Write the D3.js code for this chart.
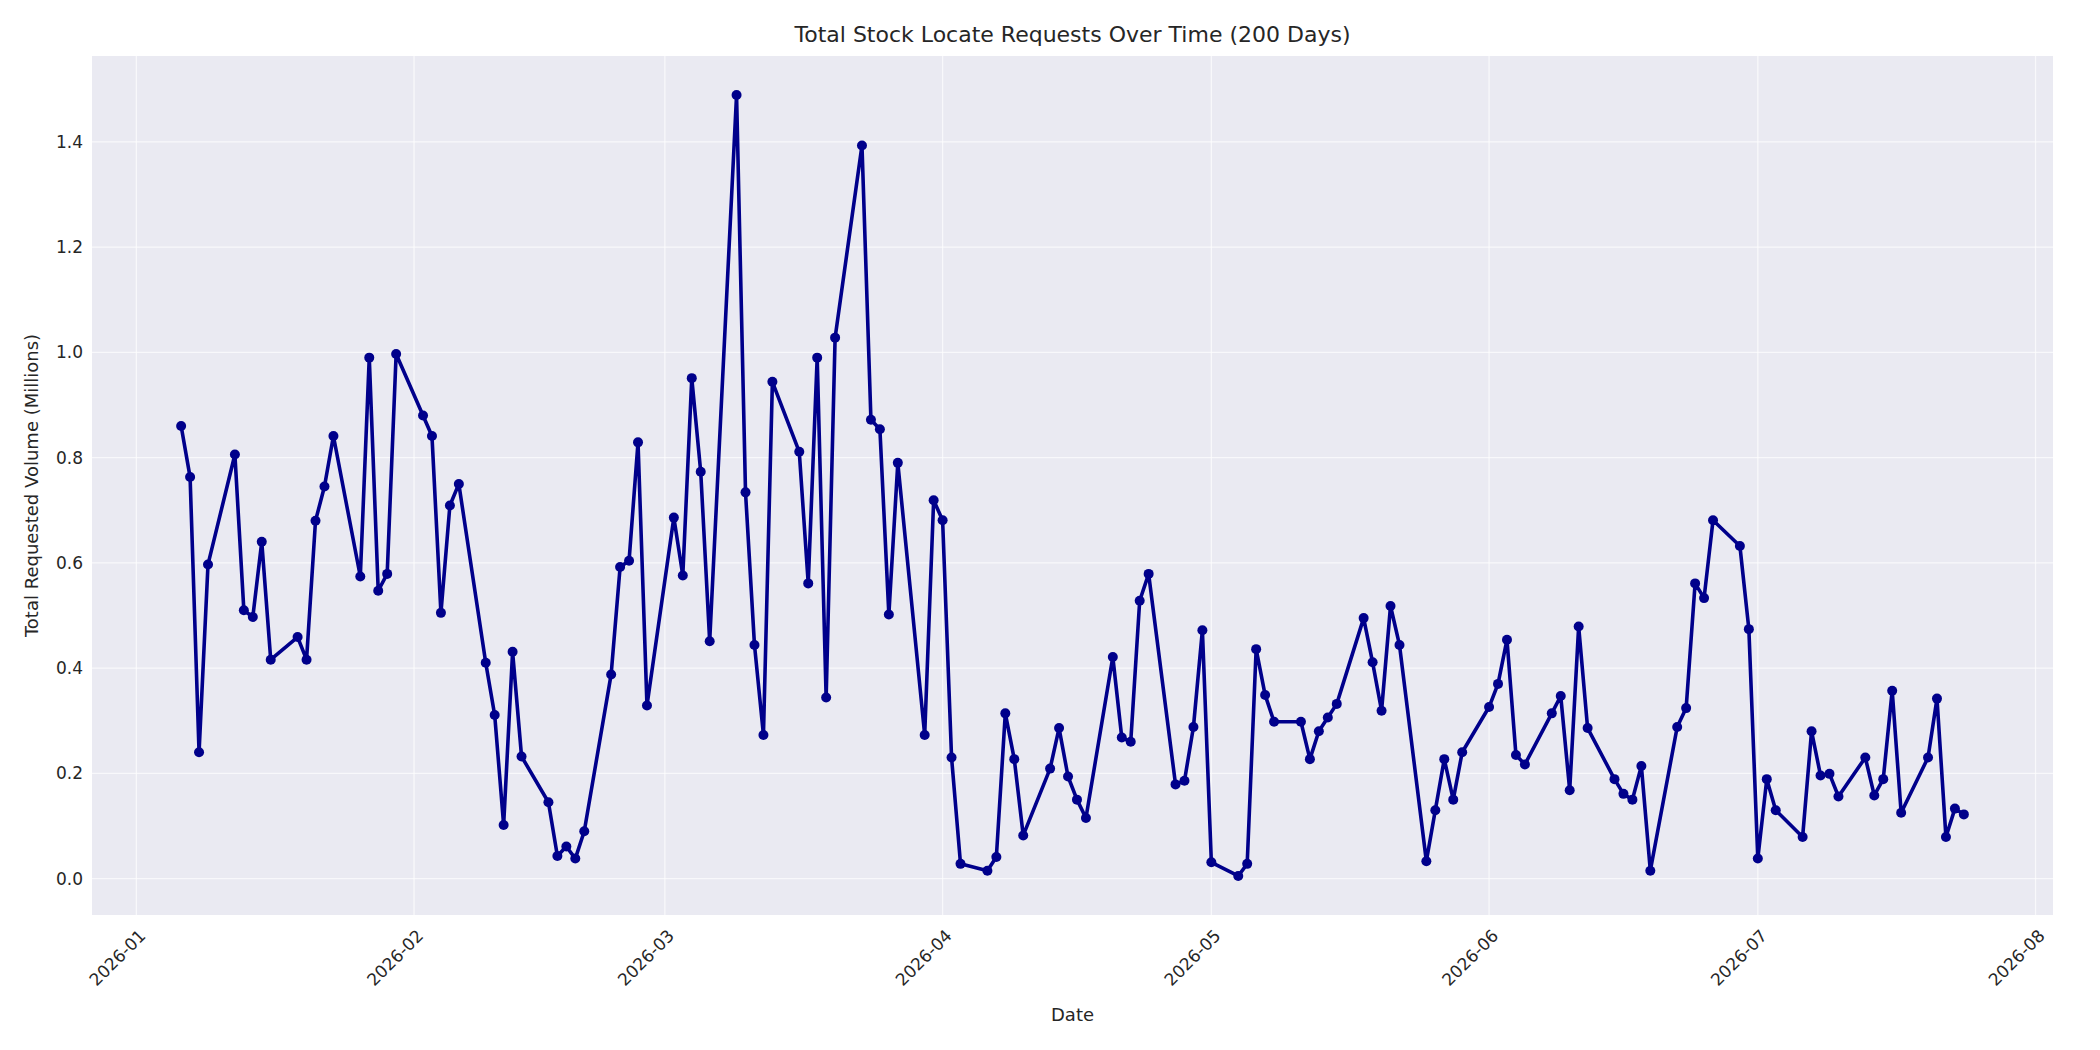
<!DOCTYPE html>
<html>
<head>
<meta charset="utf-8">
<script src="https://cdn.jsdelivr.net/npm/d3@7"></script>
<style>
  body { margin: 0; background: #fff; font-family: "DejaVu Sans", sans-serif; }
</style>
</head>
<body>
<div id="chart"></div>
<script>
// business days from 2026-01-06 to 2026-07-24
const startDate = "2026-01-06";
const endDate = "2026-07-24";

// total requested volume (millions), one per business day
const volumes = [
  0.860, 0.763, 0.240, 0.597,
  0.806, 0.510, 0.497, 0.640, 0.416,
  0.459, 0.416, 0.680, 0.745, 0.841,
  0.574, 0.990, 0.547, 0.579, 0.997,
  0.880, 0.841, 0.505, 0.709, 0.750,
  0.410, 0.311, 0.102, 0.431, 0.232,
  0.145, 0.043, 0.061, 0.038, 0.090,
  0.388, 0.592, 0.604, 0.829, 0.329,
  0.686, 0.576, 0.951, 0.773, 0.451,
  1.489, 0.734, 0.444, 0.273, 0.944,
  0.811, 0.561, 0.990, 0.344, 1.028,
  1.393, 0.872, 0.854, 0.502, 0.790,
  0.273, 0.719, 0.681, 0.230, 0.028,
  0.015, 0.041, 0.314, 0.227, 0.082,
  0.209, 0.286, 0.194, 0.150, 0.115,
  0.421, 0.268, 0.260, 0.528, 0.579,
  0.179, 0.186, 0.288, 0.472, 0.031,
  0.005, 0.028, 0.436, 0.349, 0.298,
  0.298, 0.227, 0.280, 0.306, 0.332,
  0.495, 0.411, 0.319, 0.518, 0.444,
  0.033, 0.130, 0.227, 0.150, 0.240,
  0.326, 0.370, 0.454, 0.235, 0.217,
  0.314, 0.347, 0.168, 0.479, 0.286,
  0.189, 0.161, 0.150, 0.214, 0.015,
  0.288, 0.324, 0.561, 0.533, 0.681,
  0.632, 0.474, 0.038, 0.189, 0.130,
  0.079, 0.280, 0.196, 0.199, 0.156,
  0.230, 0.158, 0.189, 0.357, 0.125,
  0.230, 0.342, 0.079, 0.133, 0.122
];
const yTicks = [0.0, 0.2, 0.4, 0.6, 0.8, 1.0, 1.2, 1.4];

const parse = d3.timeParse("%Y-%m-%d");
const days = d3.timeDay.range(parse(startDate), d3.timeDay.offset(parse(endDate), 1))
    .filter(d => d.getDay() !== 0 && d.getDay() !== 6);
const data = days.map((d, i) => ({date: d, value: volumes[i]}));

const W = 2100, H = 1050;
const margin = {top: 56, right: 47, bottom: 135, left: 92},
    width = W - margin.left - margin.right,
    height = H - margin.top - margin.bottom;

const svg = d3.select("#chart").append("svg")
    .attr("width", W).attr("height", H);

const g = svg.append("g").attr("transform", `translate(${margin.left},${margin.top})`);

g.append("rect").attr("width", width).attr("height", height).attr("fill", "#eaeaf2");

// 5% padding like matplotlib
const xExt = d3.extent(data, d => d.date);
const xPad = (xExt[1] - xExt[0]) * 0.05;
const x = d3.scaleTime()
    .domain([new Date(+xExt[0] - xPad), new Date(+xExt[1] + xPad)])
    .range([0, width]);
const yExt = d3.extent(data, d => d.value);
const yPad = (yExt[1] - yExt[0]) * 0.05;
const y = d3.scaleLinear()
    .domain([yExt[0] - yPad, yExt[1] + yPad])
    .range([height, 0]);

const monthTicks = d3.timeMonth.range(new Date(2026, 0, 1), new Date(2026, 7, 2));

// grid
g.append("g").selectAll("line").data(monthTicks).join("line")
    .attr("x1", d => x(d)).attr("x2", d => x(d)).attr("y1", 0).attr("y2", height)
    .attr("stroke", "#fff").attr("stroke-width", 1.3).attr("opacity", 0.7);
g.append("g").selectAll("line").data(yTicks).join("line")
    .attr("x1", 0).attr("x2", width).attr("y1", d => y(d)).attr("y2", d => y(d))
    .attr("stroke", "#fff").attr("stroke-width", 1.3).attr("opacity", 0.7);

// axes
const xAxis = g.append("g").attr("transform", `translate(0,${height})`)
    .call(d3.axisBottom(x).tickValues(monthTicks).tickFormat(d3.timeFormat("%Y-%m")).tickSize(0).tickPadding(8));
xAxis.select(".domain").remove();
xAxis.selectAll("text")
    .attr("font-size", 17).attr("fill", "#262626").attr("font-family", "DejaVu Sans")
    .attr("text-anchor", "end").attr("dy", "0.35em")
    .attr("transform", "translate(0,12) rotate(-45)");

const yAxis = g.append("g")
    .call(d3.axisLeft(y).tickValues(yTicks).tickFormat(d3.format(".1f")).tickSize(0).tickPadding(9));
yAxis.select(".domain").remove();
yAxis.selectAll("text").attr("font-size", 17).attr("fill", "#262626").attr("font-family", "DejaVu Sans");

// line + markers
g.append("path").datum(data)
    .attr("fill", "none").attr("stroke", "#00008b").attr("stroke-width", 3.6)
    .attr("stroke-linejoin", "round")
    .attr("d", d3.line().x(d => x(d.date)).y(d => y(d.value)));
g.append("g").selectAll("circle").data(data).join("circle")
    .attr("cx", d => x(d.date)).attr("cy", d => y(d.value)).attr("r", 5)
    .attr("fill", "#00008b");

// titles
svg.append("text").attr("x", margin.left + width / 2).attr("y", 42)
    .attr("text-anchor", "middle").attr("font-size", 22).attr("fill", "#262626")
    .text("Total Stock Locate Requests Over Time (200 Days)");
svg.append("text").attr("x", margin.left + width / 2).attr("y", 1021)
    .attr("text-anchor", "middle").attr("font-size", 18).attr("fill", "#262626")
    .text("Date");
svg.append("text")
    .attr("transform", `translate(38,${margin.top + height / 2}) rotate(-90)`)
    .attr("text-anchor", "middle").attr("font-size", 18).attr("fill", "#262626")
    .text("Total Requested Volume (Millions)");
</script>
</body>
</html>
